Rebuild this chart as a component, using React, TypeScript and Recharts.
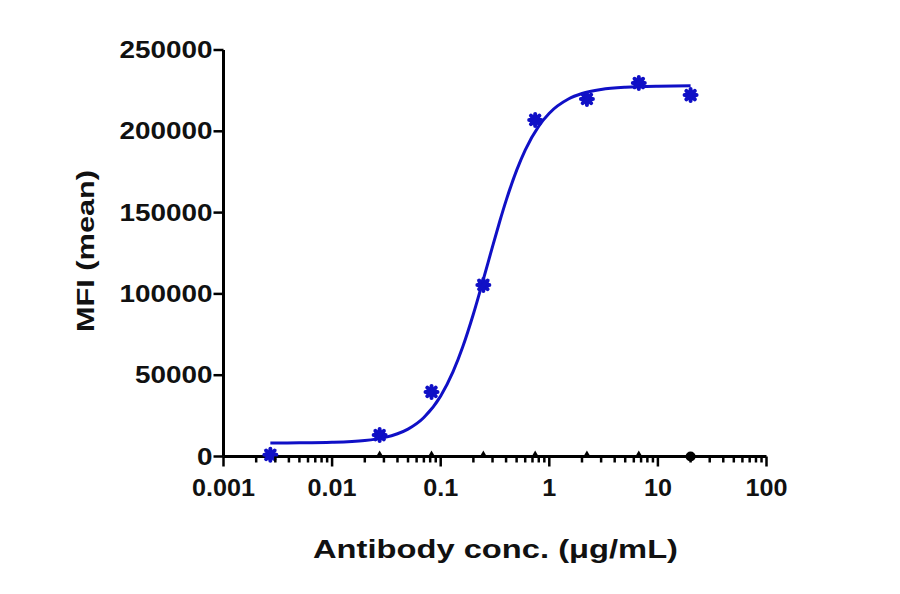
import React from 'react';
import { ComposedChart, Line, Scatter, XAxis, YAxis } from 'recharts';

// measured points (µg/mL, MFI)
const concentrations = [0.0027, 0.0274, 0.0823, 0.247, 0.741, 2.22, 6.67, 20];
const mfiValues = [1000, 13200, 39700, 105500, 207000, 219900, 229700, 222300];

// control antibody, sits on the baseline
const controlConc = [0.0027, 0.0274, 0.0823, 0.247, 0.741, 2.22, 6.67];
const controlValues = [0, 0, 0, 0, 0, 0, 0];
const controlTopConc = [20];
const controlTopValues = [0];

// fitted curve
const fitConc = [0.0027, 0.005, 0.01, 0.02, 0.03, 0.04, 0.05, 0.07, 0.1, 0.13, 0.16, 0.2, 0.25, 0.3, 0.35, 0.4, 0.5, 0.6, 0.8, 1, 1.5, 2, 3, 5, 10, 20];
const fitValues = [8330, 8410, 8720, 9850, 11630, 13990, 16870, 23990, 37210, 52150, 67630, 87640, 110150, 129110, 144690, 157360, 175990, 188480, 203240, 211140, 219860, 223220, 225760, 227150, 227770, 227940];

const xTicks = [0.001, 0.01, 0.1, 1, 10, 100];
const yTicks = [0, 50000, 100000, 150000, 200000, 250000];

const BLUE = '#1010c6';
const FONT = '"Liberation Sans", Arial, sans-serif';

const pointData = concentrations.map((x, i) => ({ x, y: mfiValues[i] }));
const controlData = controlConc.map((x, i) => ({ x, y: controlValues[i] }));
const controlTopData = controlTopConc.map((x, i) => ({ x, y: controlTopValues[i] }));
const fitData = fitConc.map((x, i) => ({ x, y: fitValues[i] }));

const minorTicks = xTicks.slice(0, -1).flatMap(d => [2, 3, 4, 5, 6, 7, 8, 9].map(k => d * k));
const allXTicks = [...xTicks, ...minorTicks].sort((a, b) => a - b);

const labelWidth = (s: string, digit: number) =>
  s.split('').reduce((w, c) => w + (c === '.' ? digit / 2 : digit), 0);

const XTick = (props: any) => {
  const { x, y, payload } = props;
  const major = xTicks.includes(payload.value);
  const label = String(payload.value);
  return (
    <g>
      <line x1={x} x2={x} y1={y} y2={y + (major ? 10 : 6)} stroke="#000" strokeWidth={2.5} />
      {major && (
        <text
          x={x}
          y={y + 39}
          textAnchor="middle"
          textLength={labelWidth(label, 14)}
          lengthAdjust="spacingAndGlyphs"
          style={{ fontFamily: FONT, fontWeight: 700, fontSize: 23, fill: '#111' }}
        >
          {label}
        </text>
      )}
    </g>
  );
};

const YTick = (props: any) => {
  const { x, y, payload } = props;
  const label = String(payload.value);
  return (
    <text
      x={x}
      y={y + 8}
      textAnchor="end"
      textLength={labelWidth(label, 15.5)}
      lengthAdjust="spacingAndGlyphs"
      style={{ fontFamily: FONT, fontWeight: 700, fontSize: 23, fill: '#111' }}
    >
      {label}
    </text>
  );
};

const Star = (props: any) => {
  const { cx, cy } = props;
  if (cx == null || cy == null) return <g />;
  const r = 6;
  const arms = [0, 45, 90, 135].map(a => {
    const rad = (a * Math.PI) / 180;
    return (
      <line
        key={a}
        x1={cx - r * Math.cos(rad)}
        y1={cy - r * Math.sin(rad)}
        x2={cx + r * Math.cos(rad)}
        y2={cy + r * Math.sin(rad)}
        stroke={BLUE}
        strokeWidth={4}
        strokeLinecap="round"
      />
    );
  });
  return (
    <g>
      <circle cx={cx} cy={cy} r={5.2} fill={BLUE} />
      {arms}
    </g>
  );
};

const Triangle = (props: any) => {
  const { cx, cy } = props;
  if (cx == null || cy == null) return <g />;
  return <polygon points={`${cx - 3.5},${cy} ${cx + 3.5},${cy} ${cx},${cy - 6}`} fill="#000" />;
};

const Dot = (props: any) => {
  const { cx, cy } = props;
  if (cx == null || cy == null) return <g />;
  return <circle cx={cx} cy={cy} r={5} fill="#000" />;
};

const XTitle = () => (
  <text
    x={495.5}
    y={558}
    textAnchor="middle"
    textLength={365}
    lengthAdjust="spacingAndGlyphs"
    style={{ fontFamily: FONT, fontWeight: 700, fontSize: 26, fill: '#111' }}
  >
    Antibody conc. (μg/mL)
  </text>
);

const YTitle = () => (
  <text
    x={0}
    y={0}
    transform="translate(94, 251) rotate(-90)"
    textAnchor="middle"
    textLength={162}
    lengthAdjust="spacingAndGlyphs"
    style={{ fontFamily: FONT, fontWeight: 700, fontSize: 24, fill: '#111' }}
  >
    MFI (mean)
  </text>
);

export default function App() {
  return (
    <div style={{ position: 'absolute', left: 0, top: 0, width: 900, height: 594, background: '#fff' }}>
      <ComposedChart width={900} height={594} margin={{ top: 50, right: 133.5, left: 0, bottom: 0 }}>
        <XAxis
          dataKey="x"
          type="number"
          scale="log"
          domain={[0.001, 100]}
          ticks={allXTicks}
          interval={0}
          tickSize={0}
          tickMargin={0}
          tick={<XTick />}
          height={137.5}
          axisLine={{ stroke: '#000', strokeWidth: 3 }}
          label={{ content: () => <XTitle /> }}
        />
        <YAxis
          dataKey="y"
          type="number"
          domain={[0, 250000]}
          ticks={yTicks}
          interval={0}
          width={223.5}
          tickSize={10}
          tickMargin={1}
          tick={<YTick />}
          tickLine={{ stroke: '#000', strokeWidth: 2.5 }}
          axisLine={{ stroke: '#000', strokeWidth: 3 }}
          label={{ content: () => <YTitle /> }}
        />
        <Scatter data={controlData} shape={<Triangle />} isAnimationActive={false} />
        <Scatter data={controlTopData} shape={<Dot />} isAnimationActive={false} />
        <Line
          data={fitData}
          dataKey="y"
          type="monotone"
          stroke={BLUE}
          strokeWidth={3}
          dot={false}
          activeDot={false}
          isAnimationActive={false}
        />
        <Scatter data={pointData} shape={<Star />} isAnimationActive={false} />
      </ComposedChart>
    </div>
  );
}
